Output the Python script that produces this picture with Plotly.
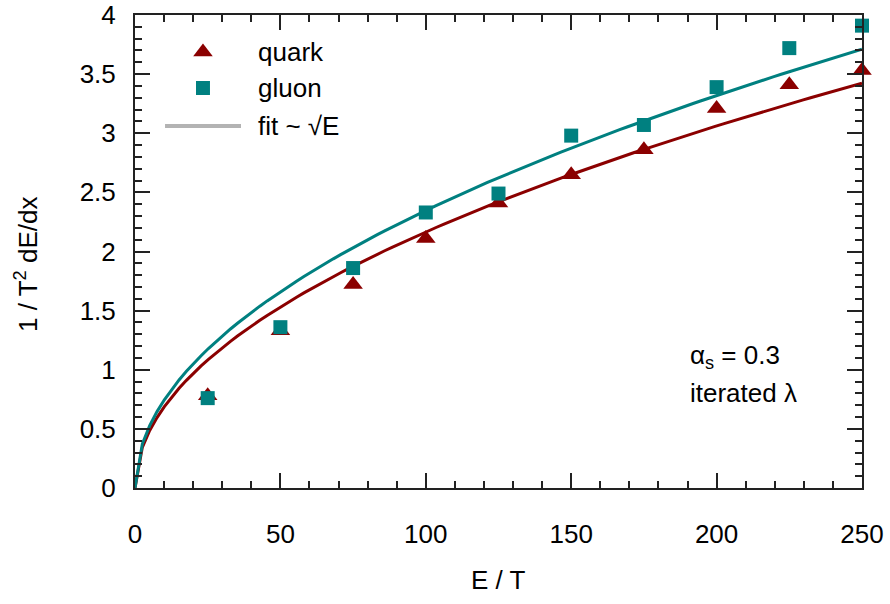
import numpy as np
import plotly.graph_objects as go

# Energy points (E/T) and energy loss per unit length, scaled by 1/T^2
energy = [25, 50, 75, 100, 125, 150, 175, 200, 225, 250]
quark = [0.78, 1.33, 1.72, 2.11, 2.41, 2.65, 2.86, 3.21, 3.41, 3.53]
gluon = [0.76, 1.36, 1.86, 2.33, 2.49, 2.98, 3.07, 3.39, 3.72, 3.91]

# sqrt(E) fit coefficients
fit_coef_quark = 0.2165
fit_coef_gluon = 0.2347

DARK_RED = "#8b0000"
TEAL = "#008080"
FIT_GREY = "#b3b3b3"
FONT = "Liberation Sans, Arial, sans-serif"
TEXT_SIZE = 26

e_fit = np.linspace(0, 250, 100)

fig = go.Figure()

fig.add_trace(go.Scatter(x=e_fit, y=fit_coef_quark * np.sqrt(e_fit), mode="lines",
                         line=dict(color=DARK_RED, width=3), showlegend=False))
fig.add_trace(go.Scatter(x=e_fit, y=fit_coef_gluon * np.sqrt(e_fit), mode="lines",
                         line=dict(color=TEAL, width=3), showlegend=False))
fig.add_trace(go.Scatter(x=energy, y=quark, mode="markers", cliponaxis=False,
                         marker=dict(symbol="triangle-up", size=17, color=DARK_RED,
                                     line=dict(width=0)), showlegend=False))
fig.add_trace(go.Scatter(x=energy, y=gluon, mode="markers", cliponaxis=False,
                         marker=dict(symbol="square", size=14, color=TEAL,
                                     line=dict(width=0)), showlegend=False))

# Key: sample symbols on an overlay axis spanning the plot area
key_y = [0.922, 0.8457, 0.7653]
fig.add_trace(go.Scatter(x=[0.0935], y=[key_y[0]], mode="markers", xaxis="x2", yaxis="y2",
                         marker=dict(symbol="triangle-up", size=17, color=DARK_RED),
                         showlegend=False, hoverinfo="skip"))
fig.add_trace(go.Scatter(x=[0.0935], y=[key_y[1]], mode="markers", xaxis="x2", yaxis="y2",
                         marker=dict(symbol="square", size=14, color=TEAL),
                         showlegend=False, hoverinfo="skip"))
fig.add_trace(go.Scatter(x=[0.0413, 0.1458], y=[key_y[2], key_y[2]], mode="lines",
                         xaxis="x2", yaxis="y2",
                         line=dict(color=FIT_GREY, width=4),
                         showlegend=False, hoverinfo="skip"))

key_labels = ["quark", "gluon", "fit ~ √E"]
text_font = dict(family=FONT, size=TEXT_SIZE, color="black")
annotations = [
    dict(x=0.1664, y=yy, xref="paper", yref="paper", text=t, showarrow=False,
         xanchor="left", yanchor="middle", font=text_font)
    for t, yy in zip(key_labels, key_y)
]
annotations += [
    dict(x=0.7607, y=0.277, xref="paper", yref="paper", text="α<sub>s</sub> = 0.3",
         showarrow=False, xanchor="left", yanchor="middle", font=text_font),
    dict(x=0.7607, y=0.2008, xref="paper", yref="paper", text="iterated λ",
         showarrow=False, xanchor="left", yanchor="middle", font=text_font),
    dict(x=0.5, y=-0.1945, xref="paper", yref="paper", text="E / T",
         showarrow=False, xanchor="center", yanchor="middle", font=text_font),
    dict(x=-0.1486, y=0.4736, xref="paper", yref="paper", text="1 / T<sup>2</sup> dE/dx",
         showarrow=False, xanchor="center", yanchor="middle", textangle=-90, font=text_font),
]

axis_common = dict(
    showline=True, linecolor="#222222", linewidth=2, mirror="ticks",
    ticks="inside", ticklen=15, tickwidth=1.5, tickcolor="#222222",
    showgrid=False, zeroline=False, automargin=False,
    tickfont=dict(family=FONT, size=TEXT_SIZE, color="black"),
)

fig.update_layout(
    template="none",
    width=890, height=604,
    margin=dict(l=135, r=28, t=15, b=116, autoexpand=False),
    paper_bgcolor="white", plot_bgcolor="white",
    xaxis=dict(range=[0, 250], dtick=50, tick0=0,
               minor=dict(dtick=10, ticklen=7, ticks="inside", tickcolor="#222222", tickwidth=1.5),
               ticklabelstandoff=22, **axis_common),
    yaxis=dict(range=[0, 4], dtick=0.5, tick0=0,
               minor=dict(dtick=0.1, ticklen=7, ticks="inside", tickcolor="#222222", tickwidth=1.5),
               ticklabelstandoff=12, **axis_common),
    xaxis2=dict(range=[0, 1], overlaying="x", visible=False, domain=[0, 1], automargin=False),
    yaxis2=dict(range=[0, 1], overlaying="y", visible=False, domain=[0, 1], automargin=False),
    annotations=annotations,
    showlegend=False,
)

fig.write_html("out.html")
